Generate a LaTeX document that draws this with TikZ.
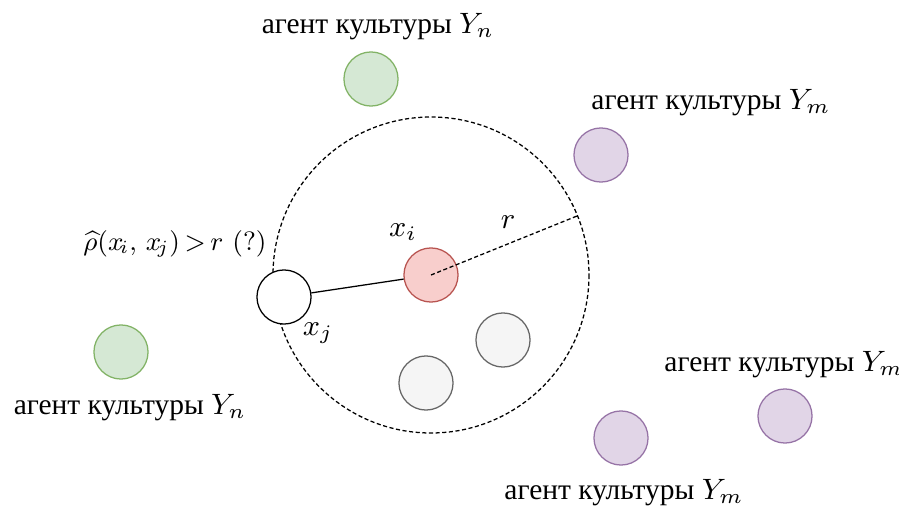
\documentclass[tikz,border=0pt]{standalone}
\usepackage{amsmath,amssymb}
\usepackage{fix-cm}
\usepackage{fontspec}
\newfontfamily\cyrfont{Liberation Serif}
\usetikzlibrary{calc}

\definecolor{rougeF}{HTML}{F8CECC}
\definecolor{rougeT}{HTML}{B85450}
\definecolor{vertF}{HTML}{D5E8D4}
\definecolor{vertT}{HTML}{82B366}
\definecolor{violetF}{HTML}{E1D5E7}
\definecolor{violetT}{HTML}{9673A6}
\definecolor{grisF}{HTML}{F5F5F5}
\definecolor{grisT}{HTML}{666666}

\begin{document}
\begin{tikzpicture}[
  x=0.0111cm,y=-0.0111cm,
  pointille/.style={dash pattern=on 1.3pt off 0.8pt},
  agent/.style={circle,draw,minimum size=0.6cm,inner sep=0pt},
  rouge/.style={agent,fill=rougeF,draw=rougeT},
  vert/.style={agent,fill=vertF,draw=vertT},
  violet/.style={agent,fill=violetF,draw=violetT},
  gris/.style={agent,fill=grisF,draw=grisT},
  etiq/.style={font=\cyrfont\fontsize{9.3}{11}\selectfont},
  math/.style={font=\fontsize{9.3}{11}\selectfont},
]
  \useasboundingbox (0,0) rectangle (899,506);

  % Voisinage de rayon r
  \coordinate (O) at (431,275);
  \draw[pointille] (O) circle (158);
  \coordinate (R) at ($(O)+(-22:158)$);

  % Agents
  \node[rouge] (xi) at (O) {};
  \node[agent,fill=white] (xj) at (284,297) {};
  \node[gris] (g1) at (503,340) {};
  \node[gris] (g2) at (426,383) {};
  \node[vert] (vn1) at (371,79) {};
  \node[vert] (vn2) at (121,352) {};
  \node[violet] (vm1) at (601,155) {};
  \node[violet] (vm2) at (621,438) {};
  \node[violet] (vm3) at (785,416) {};

  % Liens
  \draw (xj) -- (xi);
  \draw[pointille] (xi.center) -- (R);

  % Etiquettes
  \node[math] (lxi) at (403,232) {$x_i$};
  \node[math] (lxj) at (318,333) {$x_j$};
  \node[math] (lr) at (508,222) {$r$};
  \node[math,scale=0.9] (lrho) at (175,244)
    {$\widehat{\rho}(x_{\!i},\,x_{\!j})\,{>}\,r$ (?)};
  \node[etiq] (lvn1) at (378,27) {агент культуры $Y_n$};
  \node[etiq] (lvn2) at (130,408) {агент культуры $Y_n$};
  \node[etiq] (lvm1) at (711,103) {агент культуры $Y_m$};
  \node[etiq] (lvm3) at (784,365) {агент культуры $Y_m$};
  \node[etiq] (lvm2) at (624,493) {агент культуры $Y_m$};
\end{tikzpicture}
\end{document}
